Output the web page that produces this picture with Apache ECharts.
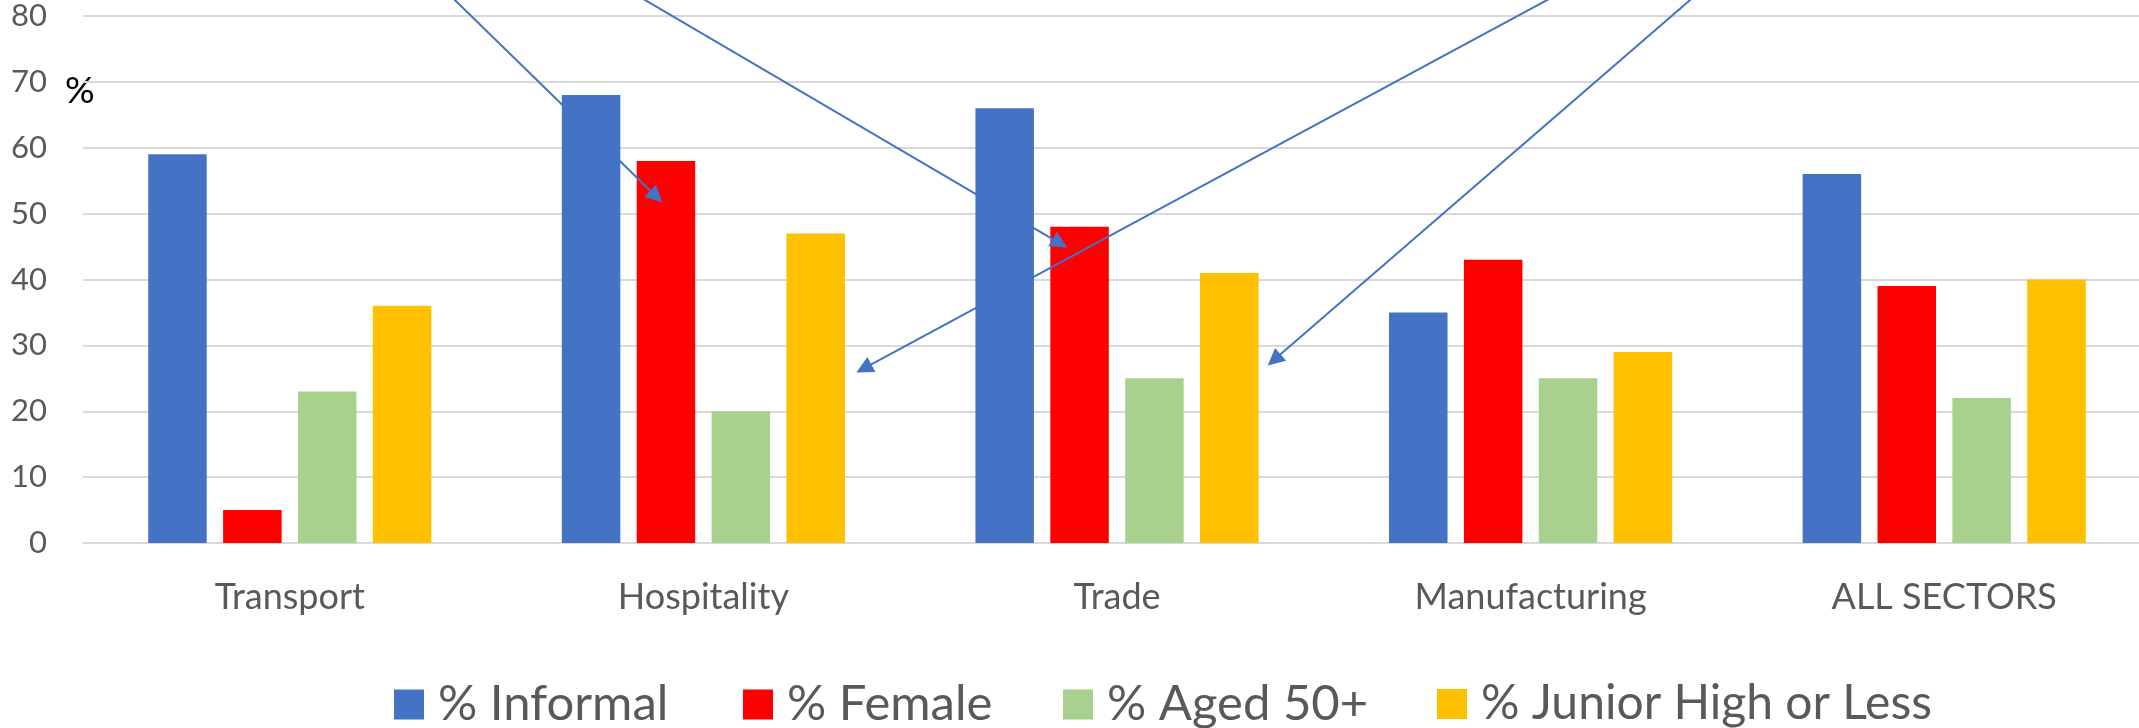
<!DOCTYPE html>
<html>
<head>
<meta charset="utf-8">
<title>Sector profile</title>
<script src="https://cdn.jsdelivr.net/npm/echarts@6/dist/echarts.min.js"></script>
<style>
  html, body { margin: 0; padding: 0; background: #ffffff; overflow: hidden; }
  /* the plot area runs slightly past the right edge of the view */
  #chart { width: 2170px; height: 728px; }
</style>
</head>
<body>
<div id="chart"></div>
<script>
// Sectors along the x axis
const categories = ['Transport', 'Hospitality', 'Trade', 'Manufacturing', 'ALL SECTORS'];

// Shares of workers (%) per sector
const informal = [59, 68, 66, 35, 56];
const female = [5, 58, 48, 43, 39];
const aged50 = [23, 20, 25, 25, 22];
const juniorHigh = [36, 47, 41, 29, 40];

const seriesNames = ['% Informal', '% Female', '% Aged 50+', '% Junior High or Less'];
const seriesValues = [informal, female, aged50, juniorHigh];
const seriesColors = ['#4472C4', '#FF0000', '#A9D18E', '#FFC000'];

// Value-axis ticks
const yTicks = { min: 0, max: 80, step: 10 };

// Callout arrows: [x (category index units), y (%)] from the off-chart note to the arrow head
const arrowStarts = [[0.357, 85], [0.789, 85], [3.116, 85], [3.433, 85]];
const arrowEnds = [[0.886, 52.6], [1.862, 45.5], [1.388, 26.5], [2.380, 27.8]];

const FONT = 'Lato, "Open Sans", "Noto Sans", sans-serif';
const GREY_TEXT = '#595959';
const GRID_LINE = '#D9D9D9';

// Legend item anchors (left edge of each swatch)
const legendLefts = [394, 743, 1063, 1437];

const chart = echarts.init(document.getElementById('chart'), null, { renderer: 'canvas' });

const barSeries = seriesNames.map((name, i) => ({
  name: name,
  type: 'bar',
  data: seriesValues[i],
  barWidth: 58.5,
  barGap: '28%',
  itemStyle: { color: seriesColors[i] },
  z: 2
}));

const arrowSeries = {
  type: 'lines',
  coordinateSystem: 'cartesian2d',
  xAxisIndex: 1,
  yAxisIndex: 0,
  clip: false,
  silent: true,
  z: 5,
  symbol: ['none', 'triangle'],
  symbolSize: 17,
  lineStyle: { color: '#4472C4', width: 2, opacity: 1, curveness: 0 },
  data: arrowStarts.map((s, i) => ({ coords: [s, arrowEnds[i]] }))
};

const legends = seriesNames.map((name, i) => ({
  data: [name],
  left: legendLefts[i],
  top: 680,
  padding: 0,
  icon: 'rect',
  itemWidth: 30,
  itemHeight: 30,
  selectedMode: false,
  textStyle: {
    fontFamily: FONT,
    fontSize: i === 3 ? 48 : 49,
    color: GREY_TEXT,
    padding: [0, 0, 0, 9]
  }
}));

chart.setOption({
  animation: false,
  backgroundColor: '#ffffff',
  textStyle: { fontFamily: FONT },
  grid: { left: 83, top: 16, width: 2068, bottom: 185, containLabel: false },
  legend: legends,
  xAxis: [
    {
      type: 'category',
      data: categories,
      axisTick: { show: false },
      axisLine: { show: true, lineStyle: { color: GRID_LINE, width: 2 } },
      axisLabel: { color: GREY_TEXT, fontSize: 36, fontFamily: FONT, margin: 36 }
    },
    {
      type: 'value',
      min: -0.5,
      max: 4.5,
      show: false
    }
  ],
  yAxis: {
    type: 'value',
    min: yTicks.min,
    max: yTicks.max,
    interval: yTicks.step,
    axisLine: { show: false },
    axisTick: { show: false },
    splitLine: { lineStyle: { color: GRID_LINE, width: 2 } },
    axisLabel: { color: GREY_TEXT, fontSize: 31, fontFamily: FONT, margin: 36 }
  },
  graphic: [
    {
      type: 'text',
      left: 65,
      top: 73,
      style: { text: '%', fontSize: 37, fontFamily: FONT, fill: '#000000' }
    }
  ],
  series: barSeries.concat([arrowSeries])
});
</script>
</body>
</html>
